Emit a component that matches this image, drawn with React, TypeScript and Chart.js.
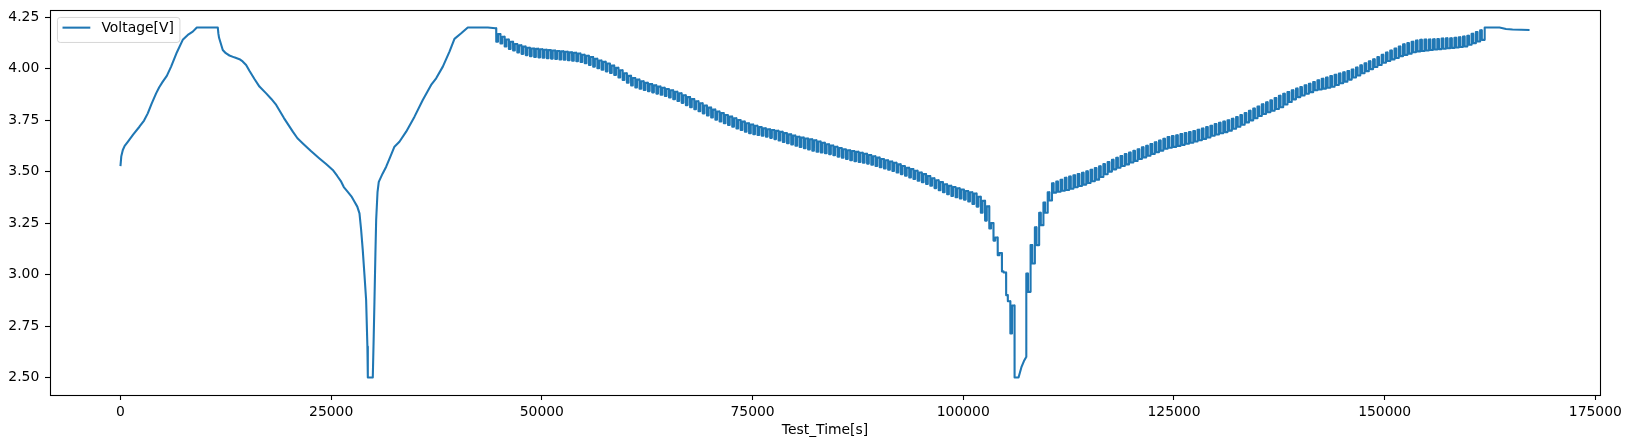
import { useEffect, useRef } from 'react';
import { Chart, registerables } from 'chart.js';

Chart.register(...registerables);

// Opening CC/CV charge, full discharge to 2.5 V and recharge (seconds, volts)
const RAMP_TIME = [
  0, 100, 280, 500, 870, 1500, 2250, 2800, 3240, 3700, 4230, 4600, 5020, 5500, 6010, 6700,
  7390, 7990, 8580, 9060, 11550, 11620, 11700, 12140, 12500, 12930, 13500, 14120, 14500,
  14910, 15300, 15900, 16490, 17290, 17900, 18480, 19400, 20450, 21000, 21640, 22600,
  23610, 24400, 25190, 25700, 26190, 26500, 26970, 27400, 27770, 28100, 28360, 28550,
  28750, 28950, 29150, 29300, 29350, 29940, 30050, 30140, 30250, 30340, 30500, 30650,
  31100, 31530, 32000, 32510, 33100, 33900, 34890, 35870, 36860, 37460, 38250, 39040,
  39630, 40430, 41210, 43590, 44500,
];
const RAMP_VOLT = [
  3.527, 3.575, 3.605, 3.625, 3.645, 3.68, 3.718, 3.748, 3.783, 3.83, 3.88, 3.91, 3.937, 3.965, 4.01, 4.08,
  4.14, 4.164, 4.18, 4.2, 4.2, 4.17, 4.15, 4.091, 4.075, 4.064, 4.055, 4.046, 4.035,
  4.018, 3.99, 3.95, 3.913, 3.88, 3.853, 3.824, 3.76, 3.694, 3.662, 3.637, 3.6,
  3.564, 3.537, 3.508, 3.48, 3.451, 3.425, 3.402, 3.38, 3.354, 3.33, 3.297, 3.22,
  3.119, 3.0, 2.875, 2.65, 2.5, 2.5, 2.7, 2.875, 3.1, 3.265, 3.4, 3.45,
  3.49, 3.524, 3.57, 3.621, 3.645, 3.694, 3.767, 3.848, 3.921, 3.953, 4.01, 4.083,
  4.145, 4.172, 4.2, 4.2, 4.196,
];

// Pulsed discharge: rest voltage before each pulse and voltage under load
const DIS_START = 44580;
const DIS_PERIOD = 500;
const DIS_LOAD_SECONDS = 200;
const DIS_REST_V = [
  4.196, 4.168, 4.155, 4.142, 4.131, 4.120, 4.113, 4.107, 4.102, 4.098,
  4.096, 4.094, 4.092, 4.090, 4.088, 4.086, 4.084, 4.082, 4.079, 4.077,
  4.074, 4.068, 4.063, 4.057, 4.048, 4.040, 4.033, 4.025, 4.015, 4.004,
  3.992, 3.978, 3.965, 3.955, 3.947, 3.939, 3.931, 3.925, 3.919, 3.913,
  3.907, 3.901, 3.895, 3.888, 3.881, 3.871, 3.862, 3.852, 3.842, 3.832,
  3.821, 3.811, 3.801, 3.792, 3.784, 3.775, 3.767, 3.759, 3.751, 3.743,
  3.735, 3.729, 3.723, 3.716, 3.710, 3.706, 3.702, 3.698, 3.693, 3.687,
  3.681, 3.675, 3.669, 3.665, 3.661, 3.657, 3.652, 3.646, 3.640, 3.633,
  3.627, 3.621, 3.615, 3.609, 3.604, 3.600, 3.596, 3.592, 3.587, 3.581,
  3.575, 3.568, 3.561, 3.555, 3.549, 3.543, 3.535, 3.527, 3.519, 3.512,
  3.504, 3.496, 3.488, 3.479, 3.468, 3.458, 3.449, 3.439, 3.431, 3.425,
  3.419, 3.413, 3.406, 3.400, 3.394, 3.378, 3.358, 3.331, 3.250, 3.180,
  3.105, 3.010, 2.870, 2.850,
];
const DIS_LOAD_V = [
  4.131, 4.122, 4.108, 4.096, 4.088, 4.079, 4.072, 4.066, 4.061, 4.057,
  4.055, 4.053, 4.051, 4.049, 4.047, 4.045, 4.043, 4.041, 4.039, 4.036,
  4.033, 4.026, 4.018, 4.010, 4.002, 3.995, 3.987, 3.979, 3.969, 3.957,
  3.945, 3.932, 3.918, 3.909, 3.903, 3.897, 3.891, 3.885, 3.879, 3.873,
  3.867, 3.860, 3.852, 3.843, 3.834, 3.823, 3.813, 3.803, 3.793, 3.783,
  3.773, 3.763, 3.752, 3.744, 3.735, 3.727, 3.718, 3.710, 3.702, 3.694,
  3.686, 3.682, 3.678, 3.674, 3.670, 3.664, 3.658, 3.651, 3.644, 3.638,
  3.632, 3.626, 3.620, 3.614, 3.608, 3.602, 3.597, 3.593, 3.589, 3.585,
  3.580, 3.573, 3.567, 3.561, 3.555, 3.551, 3.547, 3.543, 3.539, 3.533,
  3.527, 3.521, 3.515, 3.509, 3.503, 3.496, 3.488, 3.480, 3.472, 3.464,
  3.456, 3.448, 3.440, 3.431, 3.420, 3.410, 3.400, 3.390, 3.382, 3.376,
  3.370, 3.364, 3.355, 3.343, 3.330, 3.300, 3.262, 3.224, 3.165, 3.094,
  3.015, 2.900, 2.714, 2.500,
];

// Cut-off hold and slow recovery before charging resumes
const TROUGH_TIME = [106560, 106900, 107200];
const TROUGH_VOLT = [2.5, 2.55, 2.58];

// Pulsed charge: rest voltage before each pulse and peak voltage while charging
const CHG_START = 107470;
const CHG_PERIOD = 508;
const CHG_PULSE_SECONDS = 200;
const CHG_REST_V = [
  2.600, 2.916, 3.054, 3.143, 3.240, 3.300, 3.360, 3.398, 3.402, 3.407,
  3.411, 3.417, 3.424, 3.430, 3.437, 3.445, 3.453, 3.461, 3.474, 3.487,
  3.500, 3.511, 3.519, 3.527, 3.535, 3.544, 3.552, 3.561, 3.569, 3.577,
  3.586, 3.594, 3.602, 3.611, 3.616, 3.620, 3.625, 3.630, 3.635, 3.640,
  3.646, 3.652, 3.659, 3.666, 3.674, 3.680, 3.686, 3.692, 3.699, 3.708,
  3.718, 3.728, 3.739, 3.749, 3.759, 3.770, 3.780, 3.788, 3.796, 3.804,
  3.813, 3.826, 3.838, 3.851, 3.862, 3.870, 3.878, 3.886, 3.895, 3.899,
  3.903, 3.907, 3.912, 3.921, 3.929, 3.937, 3.947, 3.957, 3.967, 3.978,
  3.988, 3.998, 4.008, 4.018, 4.029, 4.037, 4.045, 4.052, 4.061, 4.067,
  4.073, 4.080, 4.084, 4.086, 4.088, 4.091, 4.093, 4.095, 4.097, 4.099,
  4.101, 4.103, 4.105, 4.108, 4.116, 4.124, 4.132, 4.140,
];
const CHG_PEAK_V = [
  3.005, 3.143, 3.229, 3.300, 3.350, 3.400, 3.443, 3.452, 3.460, 3.470,
  3.476, 3.482, 3.488, 3.494, 3.501, 3.509, 3.517, 3.526, 3.537, 3.547,
  3.557, 3.567, 3.576, 3.585, 3.593, 3.601, 3.609, 3.618, 3.626, 3.634,
  3.643, 3.651, 3.659, 3.668, 3.673, 3.677, 3.682, 3.687, 3.692, 3.697,
  3.703, 3.709, 3.716, 3.723, 3.731, 3.737, 3.743, 3.749, 3.756, 3.765,
  3.775, 3.785, 3.796, 3.806, 3.816, 3.827, 3.837, 3.847, 3.857, 3.868,
  3.878, 3.887, 3.895, 3.903, 3.911, 3.919, 3.927, 3.935, 3.944, 3.951,
  3.957, 3.964, 3.970, 3.976, 3.982, 3.988, 3.996, 4.006, 4.016, 4.026,
  4.036, 4.046, 4.057, 4.067, 4.078, 4.088, 4.098, 4.108, 4.118, 4.124,
  4.131, 4.137, 4.140, 4.141, 4.142, 4.143, 4.144, 4.146, 4.147, 4.148,
  4.150, 4.153, 4.156, 4.160, 4.169, 4.178, 4.187, 4.196,
];

// Final CV hold and rest
const TAIL_TIME = [161900, 163630, 164400, 165170, 166200, 167190];
const TAIL_VOLT = [4.2, 4.2, 4.193, 4.19, 4.189, 4.188];

const X_TICKS = [0, 25000, 50000, 75000, 100000, 125000, 150000, 175000];
const Y_TICKS = [2.5, 2.75, 3.0, 3.25, 3.5, 3.75, 4.0, 4.25];
const X_MIN = -8360;
const X_MAX = 175550;
const Y_MIN = 2.415;
const Y_MAX = 4.285;

const SERIES_LABEL = 'Voltage[V]';
const X_TITLE = 'Test_Time[s]';

const FONT_FAMILY = '"DejaVu Sans", "Liberation Sans", sans-serif';
const FONT_SIZE = 13.9;
const LINE_COLOR = '#1f77b4';

type Pt = { x: number; y: number };

function buildPoints(): Pt[] {
  const pts: Pt[] = [];
  RAMP_TIME.forEach((t, i) => pts.push({ x: t, y: RAMP_VOLT[i] }));

  const nd = DIS_REST_V.length;
  DIS_REST_V.forEach((v, i) => {
    const t0 = DIS_START + i * DIS_PERIOD;
    pts.push({ x: t0, y: v });
    pts.push({ x: t0 + 10, y: DIS_LOAD_V[i] });
    if (i < nd - 1) {
      pts.push({ x: t0 + DIS_LOAD_SECONDS, y: DIS_LOAD_V[i] });
      pts.push({ x: t0 + DIS_LOAD_SECONDS + 10, y: DIS_REST_V[i + 1] });
    }
  });

  TROUGH_TIME.forEach((t, i) => pts.push({ x: t, y: TROUGH_VOLT[i] }));

  const nc = CHG_REST_V.length;
  CHG_REST_V.forEach((v, j) => {
    const t0 = CHG_START + j * CHG_PERIOD;
    pts.push({ x: t0, y: v });
    pts.push({ x: t0 + 10, y: CHG_PEAK_V[j] });
    if (j < nc - 1) {
      pts.push({ x: t0 + CHG_PULSE_SECONDS, y: CHG_PEAK_V[j] });
      pts.push({ x: t0 + CHG_PULSE_SECONDS + 10, y: CHG_REST_V[j + 1] });
    }
  });

  TAIL_TIME.forEach((t, i) => pts.push({ x: t, y: TAIL_VOLT[i] }));
  return pts;
}

// Full box around the plot area
const framePlugin = {
  id: 'axesFrame',
  afterDatasetsDraw(chart: any) {
    const { ctx, chartArea: a } = chart;
    ctx.save();
    ctx.strokeStyle = '#000';
    ctx.lineWidth = 1.1;
    ctx.strokeRect(
      Math.round(a.left) + 0.5,
      Math.round(a.top) + 0.5,
      Math.round(a.right - a.left),
      Math.round(a.bottom - a.top)
    );
    ctx.restore();
  },
};

// Legend drawn inside the upper-left corner of the plot area
const insetLegendPlugin = {
  id: 'insetLegend',
  afterDraw(chart: any) {
    const { ctx, chartArea: a } = chart;
    const ds = chart.data.datasets[0];
    const fs = FONT_SIZE;
    ctx.save();
    ctx.font = `${fs}px ${FONT_FAMILY}`;
    const axPad = 0.5 * fs;
    const borderPad = 0.4 * fs;
    const handleLen = 2 * fs;
    const handleGap = 0.8 * fs;
    const textW = ctx.measureText(ds.label).width;
    const x0 = a.left + axPad;
    const y0 = a.top + axPad;
    const w = borderPad * 2 + handleLen + handleGap + textW;
    const h = 25;
    ctx.beginPath();
    (ctx as any).roundRect(x0 + 0.5, y0 + 0.5, w, h, 2.8);
    ctx.fillStyle = 'rgba(255,255,255,0.8)';
    ctx.fill();
    ctx.strokeStyle = 'rgba(204,204,204,0.8)';
    ctx.lineWidth = 1;
    ctx.stroke();

    const cy = y0 + 10.7;
    ctx.beginPath();
    ctx.moveTo(x0 + borderPad, cy);
    ctx.lineTo(x0 + borderPad + handleLen, cy);
    ctx.strokeStyle = ds.borderColor;
    ctx.lineWidth = ds.borderWidth;
    ctx.lineCap = 'butt';
    ctx.stroke();

    ctx.fillStyle = '#000';
    ctx.textAlign = 'left';
    ctx.textBaseline = 'middle';
    ctx.fillText(ds.label, x0 + borderPad + handleLen + handleGap, y0 + 11.5);
    ctx.restore();
  },
};

export default function App() {
  const canvasRef = useRef<HTMLCanvasElement>(null);

  useEffect(() => {
    const canvas = canvasRef.current;
    if (!canvas) return;
    const tickFont = { family: FONT_FAMILY, size: FONT_SIZE };

    const chart = new Chart(canvas, {
      type: 'line',
      data: {
        datasets: [
          {
            label: SERIES_LABEL,
            data: buildPoints(),
            borderColor: LINE_COLOR,
            backgroundColor: LINE_COLOR,
            borderWidth: 2.08,
            pointRadius: 0,
            tension: 0,
            fill: false,
            borderJoinStyle: 'round',
          },
        ],
      },
      options: {
        animation: false,
        responsive: false,
        devicePixelRatio: 1,
        events: [],
        layout: { padding: { left: 0, right: 31, top: 10, bottom: 0 } },
        plugins: {
          legend: { display: false },
          tooltip: { enabled: false },
        },
        scales: {
          x: {
            type: 'linear',
            min: X_MIN,
            max: X_MAX,
            afterBuildTicks: (scale: any) => {
              scale.ticks = X_TICKS.map((v) => ({ value: v }));
            },
            afterFit: (scale: any) => {
              scale.height = 53;
              scale.paddingLeft = 0;
              scale.paddingRight = 0;
            },
            grid: {
              display: true,
              drawOnChartArea: false,
              drawTicks: true,
              tickLength: 5,
              tickWidth: 1.1,
              tickColor: '#000',
            },
            border: { display: false },
            ticks: {
              color: '#000',
              font: tickFont,
              padding: 4,
              maxRotation: 0,
              autoSkip: false,
              callback: (v: any) => String(v),
            },
            title: {
              display: true,
              text: X_TITLE,
              color: '#000',
              font: tickFont,
              padding: { top: 0, bottom: 9.7 },
            },
          },
          y: {
            type: 'linear',
            min: Y_MIN,
            max: Y_MAX,
            afterBuildTicks: (scale: any) => {
              scale.ticks = Y_TICKS.map((v) => ({ value: v }));
            },
            afterFit: (scale: any) => {
              scale.width = 50;
              scale.paddingTop = 0;
              scale.paddingBottom = 0;
            },
            grid: {
              display: true,
              drawOnChartArea: false,
              drawTicks: true,
              tickLength: 5,
              tickWidth: 1.1,
              tickColor: '#000',
            },
            border: { display: false },
            ticks: {
              color: '#000',
              font: tickFont,
              padding: 5.7,
              autoSkip: false,
              callback: (v: any) => Number(v).toFixed(2),
            },
          },
        },
      },
      plugins: [framePlugin, insetLegendPlugin],
    } as any);

    return () => chart.destroy();
  }, []);

  return (
    <div
      style={{
        position: 'absolute',
        left: 0,
        top: 0,
        width: 1631,
        height: 448,
        background: '#fff',
      }}
    >
      <canvas ref={canvasRef} width={1631} height={448} style={{ display: 'block' }} />
    </div>
  );
}
